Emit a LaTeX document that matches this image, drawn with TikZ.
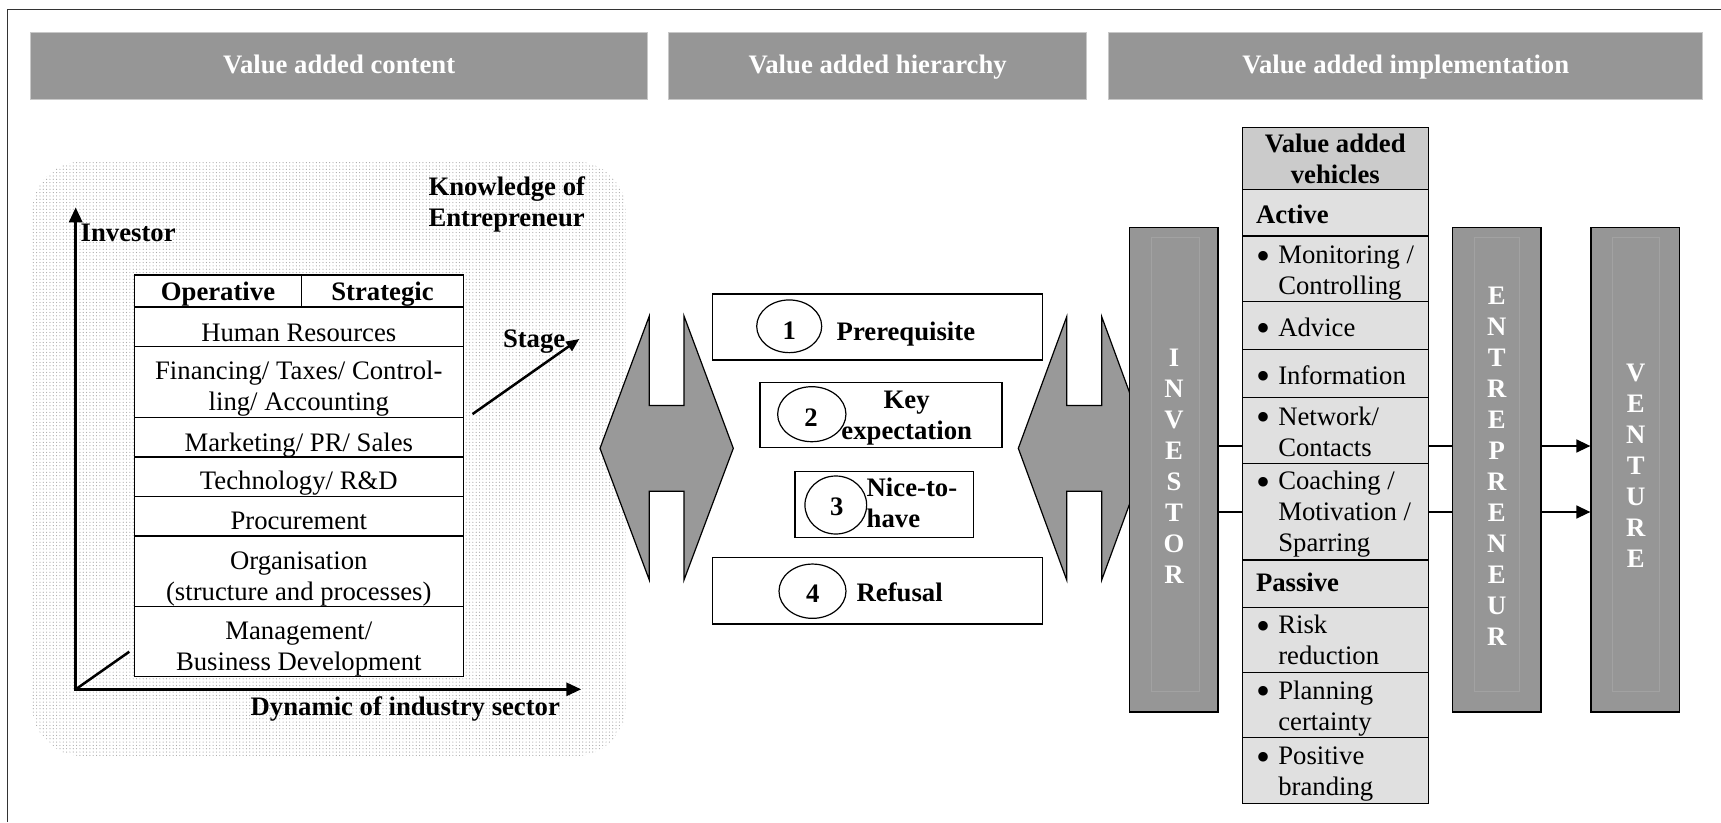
\documentclass[tikz,border=0pt]{standalone}
\usepackage{fontspec}
\setmainfont{Liberation Serif}
\usetikzlibrary{arrows.meta,shapes.geometric,patterns.meta}
\definecolor{bargray}{HTML}{969696}
\definecolor{barline}{HTML}{C8C8C8}
\definecolor{boxgray}{HTML}{969696}
\definecolor{innergray}{HTML}{A2A2A2}
\definecolor{vhead}{HTML}{CBCBCB}
\definecolor{vrow}{HTML}{E0E0E0}
\definecolor{arrgray}{HTML}{999999}
\definecolor{dotgray}{HTML}{A8A8A8}
\definecolor{framegray}{HTML}{333333}
\newcommand{\fs}{\fontsize{26.7pt}{31pt}\selectfont}
\newcommand{\st}{\vrule height 18.5pt depth 6.5pt width 0pt}
\newcommand{\bul}{\makebox[22.3pt][l]{\raisebox{-5.5pt}{\fontsize{40pt}{31pt}\selectfont •}}}
\newcommand{\ind}{\hspace*{22.3pt}}
\begin{document}
\begin{tikzpicture}[x=1pt,y=-1pt,
  txt/.style={inner sep=0pt, outer sep=0pt, font=\fs, text=black},
  btxt/.style={inner sep=0pt, outer sep=0pt, font=\fs\bfseries, text=black},
  headbar/.style={rectangle, fill=bargray, draw=barline, line width=1pt, minimum height=66.7pt, inner sep=0pt, font=\fs\bfseries, text=white, text height=18.5pt, text depth=2pt},
  lcell/.style={rectangle, draw=black, line width=1.5pt, fill=white, inner sep=0pt, minimum width=329pt},
  vcell/.style={rectangle, draw=black, line width=1.5pt, fill=vrow, inner sep=0pt, minimum width=186pt},
  hierbox/.style={rectangle, draw=black, line width=1.5pt, fill=white, inner sep=0pt},
  rankell/.style={ellipse, draw=black, line width=1.2pt, inner sep=0pt},
  actorbox/.style={rectangle, draw=black, line width=1.5pt, fill=boxgray, inner sep=0pt, minimum width=88.5pt, minimum height=484.3pt},
  innerframe/.style={draw=innergray, line width=0.8pt},
  letters/.style={inner sep=0pt, font=\fs\bfseries, text=white, align=center},
  axisarrow/.style={line width=3pt, -{Triangle[length=15pt,width=13pt]}},
  conn/.style={line width=1.5pt},
  harrow/.style={fill=arrgray, draw=black, line width=1.2pt, line join=miter},
]
\useasboundingbox (0,0) rectangle (1721,822);

% frame
\coordinate (fTL) at (7.3,9.3);
\coordinate (fR) at (1721,9.3);
\coordinate (fB) at (7.3,822);
\draw[framegray, line width=1.6pt] (fB) -- (fTL) -- (fR);

% header bars
\node[headbar, minimum width=617pt] (h1) at (339.2,65.7) {Value added content};
\node[headbar, minimum width=418.2pt] (h2) at (877.6,65.7) {Value added hierarchy};
\node[headbar, minimum width=594.1pt] (h3) at (1405.7,65.7) {Value added implementation};

% dotted background
\path[pattern={Dots[distance=3.33pt, radius=0.6pt]}, pattern color=dotgray, rounded corners=50pt] (32.3,161.5) rectangle (626,756);

% axes
\coordinate (o) at (75.7,689.3);
\coordinate (ytip) at (75.7,207.3);
\coordinate (ybase) at (75.7,690.8);
\coordinate (xtip) at (581.3,689.3);
\coordinate (dend) at (129.3,651.7);
\coordinate (s0) at (472.5,414.1);
\coordinate (s1) at (579.3,339);
\draw[axisarrow] (ybase) -- (ytip);
\draw[axisarrow] (o) -- (xtip);
\draw[line width=2.5pt] (o) -- (dend);
\draw[line width=2.5pt, -{Triangle[length=13pt,width=11pt]}] (s0) -- (s1);

\node[btxt, anchor=base west] (lInv) at (80.7,241.5) {Investor};
\node[btxt, anchor=west, align=left] (lKnow) at (428.5,204.8) {\st Knowledge of\\\st Entrepreneur};
\node[btxt, anchor=base west] (lStage) at (503,347.7) {Stage};
\node[btxt, anchor=base west] (lDyn) at (250.7,715) {Dynamic of industry sector};

% left table
\node[lcell, minimum width=167.4pt, minimum height=32pt] (cOp) at (218,291) {};
\node[lcell, minimum width=161.6pt, minimum height=32pt] (cSt) at (382.5,291) {};
\node[lcell, minimum height=39.5pt] (cHR) at (298.8,326.75) {};
\node[lcell, minimum height=70.8pt] (cFin) at (298.8,381.9) {};
\node[lcell, minimum height=39.5pt] (cMkt) at (298.8,437.05) {};
\node[lcell, minimum height=39.6pt] (cTec) at (298.8,476.6) {};
\node[lcell, minimum height=39.5pt] (cPro) at (298.8,516.15) {};
\node[lcell, minimum height=70.8pt] (cOrg) at (298.8,571.3) {};
\node[lcell, minimum height=70pt] (cMan) at (298.8,641.7) {};

\node[btxt, anchor=base] (tOp) at (218,300.3) {Operative};
\node[btxt, anchor=base] (tSt) at (382.5,300.3) {Strategic};
\node[txt, anchor=base] (tHR) at (298.8,341) {Human Resources};
\node[txt, align=center] (tFin) at (298.8,389) {\st Financing/ Taxes/ Control-\\\st ling/ Accounting};
\node[txt, anchor=base] (tMkt) at (298.8,451.3) {Marketing/ PR/ Sales};
\node[txt, anchor=base] (tTec) at (298.8,489.5) {Technology/ R\&D};
\node[txt, anchor=base] (tPro) at (298.8,529.8) {Procurement};
\node[txt, align=center] (tOrg) at (298.8,578.5) {\st Organisation\\\st (structure and processes)};
\node[txt, align=center] (tMan) at (298.8,648.7) {\st Management/\\\st Business Development};

% hierarchy double arrows
\draw[harrow] (600,448.3) -- (649.3,316) -- (649.3,405.5) -- (684,405.5) -- (684,316) -- (733.3,448.3) -- (684,580) -- (684,491.2) -- (649.3,491.2) -- (649.3,580) -- cycle;
\draw[harrow] (1018.3,448.3) -- (1066.7,316.7) -- (1066.7,405.5) -- (1101.7,405.5) -- (1101.7,316.7) -- (1150,448.3) -- (1101.7,580) -- (1101.7,491.2) -- (1066.7,491.2) -- (1066.7,580) -- cycle;

% hierarchy boxes
\node[hierbox, minimum width=330pt, minimum height=66pt] (b1) at (877.3,327) {};
\node[hierbox, minimum width=242pt, minimum height=65.4pt] (b2) at (881,415) {};
\node[hierbox, minimum width=178.3pt, minimum height=65.6pt] (b3) at (884.2,504.5) {};
\node[hierbox, minimum width=330pt, minimum height=66.3pt] (b4) at (877.3,590.85) {};

\node[rankell, minimum width=65pt, minimum height=52.7pt] (e1) at (789.2,326.3) {};
\node[rankell, minimum width=68.3pt, minimum height=55pt] (e2) at (811.8,414.2) {};
\node[rankell, minimum width=61.7pt, minimum height=58pt] (e3) at (835.8,505) {};
\node[rankell, minimum width=67pt, minimum height=54.3pt] (e4) at (812.5,591.2) {};

\node[btxt, anchor=base] (d1) at (789.3,339.3) {1};
\node[btxt, anchor=base] (d2) at (811,426) {2};
\node[btxt, anchor=base] (d3) at (836.7,515) {3};
\node[btxt, anchor=base] (d4) at (812.7,602.7) {4};

\node[btxt, anchor=base west] (p1) at (836.7,340) {Prerequisite};
\node[btxt, align=center] (p2) at (906.7,418.2) {\st Key\\\st expectation};
\node[btxt, anchor=west, align=left] (p3) at (866.7,505.7) {\st Nice-to-\\\st have};
\node[btxt, anchor=base west] (p4) at (856.7,601.7) {Refusal};

% actor boxes
\node[actorbox] (inv) at (1173.5,469.85) {};
\draw[innerframe] (1151.7,237.3) rectangle (1199.3,691.7);
\node[letters] (invT) at (1174,466) {I\\N\\V\\E\\S\\T\\O\\R};

\node[actorbox] (ent) at (1496.5,469.85) {};
\draw[innerframe] (1474,237.3) rectangle (1519.3,691.7);
\node[letters] (entT) at (1496.7,466) {E\\N\\T\\R\\E\\P\\R\\E\\N\\E\\U\\R};

\node[actorbox] (ven) at (1635.35,469.85) {};
\draw[innerframe] (1612.7,237.3) rectangle (1659.3,691.7);
\node[letters] (venT) at (1635.7,466) {V\\E\\N\\T\\U\\R\\E};

% connectors
\coordinate (k1) at (0,446);
\coordinate (k2) at (0,512);
\draw[conn] (inv.east |- k1) -- (ent.west |- k1);
\draw[conn] (inv.east |- k2) -- (ent.west |- k2);
\draw[conn, -{Triangle[length=14pt,width=13pt]}] (ent.east |- k1) -- (ven.west |- k1);
\draw[conn, -{Triangle[length=14pt,width=13pt]}] (ent.east |- k2) -- (ven.west |- k2);

% vehicles table
\node[vcell, fill=vhead, minimum height=62pt] (vH) at (1335.3,158.3) {};
\node[vcell, minimum height=46.7pt] (vA) at (1335.3,212.65) {};
\node[vcell, minimum height=65.7pt] (vM) at (1335.3,268.85) {};
\node[vcell, minimum height=47.6pt] (vAd) at (1335.3,325.5) {};
\node[vcell, minimum height=48.4pt] (vI) at (1335.3,373.5) {};
\node[vcell, minimum height=65.6pt] (vN) at (1335.3,430.5) {};
\node[vcell, minimum height=96.7pt] (vC) at (1335.3,511.65) {};
\node[vcell, minimum height=47.7pt] (vP) at (1335.3,583.85) {};
\node[vcell, minimum height=64.6pt] (vR) at (1335.3,640) {};
\node[vcell, minimum height=65.4pt] (vPl) at (1335.3,705) {};
\node[vcell, minimum height=65.6pt] (vPo) at (1335.3,770.5) {};

\node[btxt, align=center] (vHt) at (1335.3,161.8) {\st Value added\\\st vehicles};
\node[btxt, anchor=base west] (vAt) at (1256,223.3) {Active};
\node[txt, anchor=west, align=left] (vMt) at (1256,273.2) {\st\bul Monitoring /\\\st\ind Controlling};
\node[txt, anchor=base west] (vAdt) at (1256,336) {\bul Advice};
\node[txt, anchor=base west] (vIt) at (1256,384) {\bul Information};
\node[txt, anchor=west, align=left] (vNt) at (1256,434.5) {\st\bul Network/\\\st\ind Contacts};
\node[txt, anchor=west, align=left] (vCt) at (1256,514.9) {\st\bul Coaching /\\\st\ind Motivation /\\\st\ind Sparring};
\node[btxt, anchor=base west] (vPt) at (1256,591.7) {Passive};
\node[txt, anchor=west, align=left] (vRt) at (1256,643.2) {\st\bul Risk\\\st\ind reduction};
\node[txt, anchor=west, align=left] (vPlt) at (1256,708.7) {\st\bul Planning\\\st\ind certainty};
\node[txt, anchor=west, align=left] (vPot) at (1256,774) {\st\bul Positive\\\st\ind branding};
\end{tikzpicture}
\end{document}
